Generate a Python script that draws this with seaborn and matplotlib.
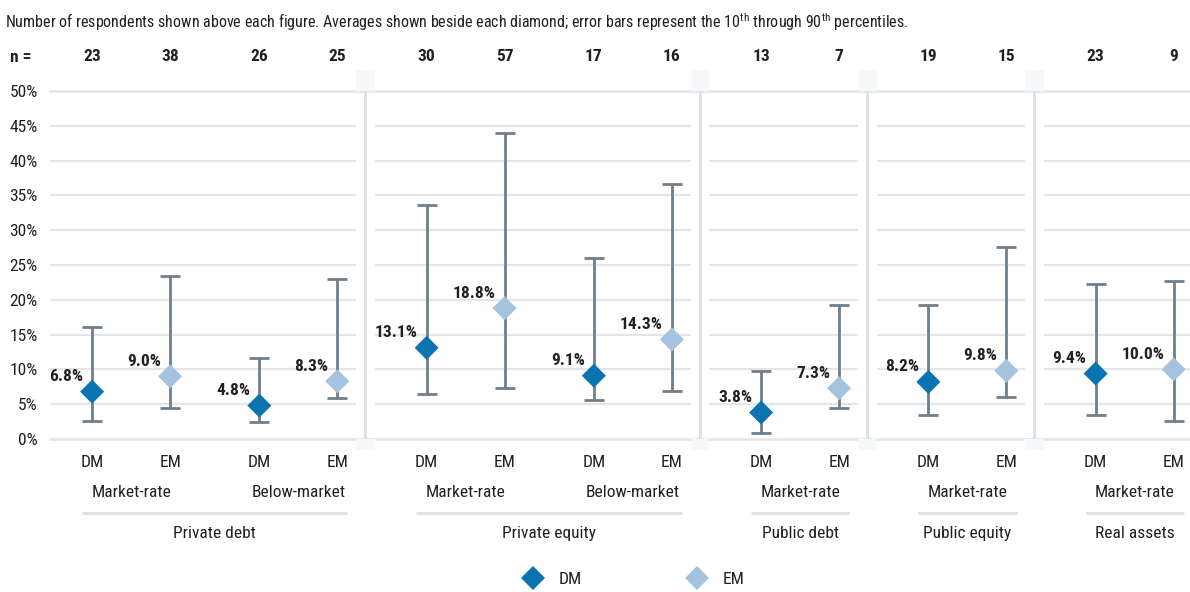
import matplotlib
matplotlib.use("Agg")
import numpy as np
import pandas as pd
import seaborn as sns
import matplotlib.pyplot as plt
from matplotlib import font_manager as fm
from matplotlib.patches import Rectangle

# ---- data -------------------------------------------------------------
asset_classes = ["Private debt", "Private equity", "Public debt", "Public equity", "Real assets"]
pair_class = [0, 0, 1, 1, 2, 3, 4]          # asset class of each DM/EM pair
pair_rate = ["Market-rate", "Below-market", "Market-rate", "Below-market",
             "Market-rate", "Market-rate", "Market-rate"]
markets = ["DM", "EM"]
n_resp = [23, 38, 26, 25, 30, 57, 17, 16, 13, 7, 19, 15, 23, 9]
avg = [6.8, 9.0, 4.8, 8.3, 13.1, 18.8, 9.1, 14.3, 3.8, 7.3, 8.2, 9.8, 9.4, 10.0]
p10 = [2.6, 4.5, 2.4, 5.9, 6.4, 7.3, 5.6, 6.9, 0.8, 4.5, 3.4, 6.1, 3.5, 2.6]
p90 = [16.1, 23.4, 11.7, 23.0, 33.6, 43.9, 26.0, 36.6, 9.8, 19.2, 19.2, 27.6, 22.3, 22.7]
y_ticks = [0, 5, 10, 15, 20, 25, 30, 35, 40, 45, 50]

# ---- style ------------------------------------------------------------
DM_COLOR = "#0b73b0"
EM_COLOR = "#a5c3de"
BAR_COLOR = "#6f7f8c"
GRID_COLOR = "#e2e6e9"
TEXT_COLOR = "#231f20"

sns.set_theme(style="white")


def condensed_font():
    entries = fm.fontManager.ttflist
    names = {f.name for f in entries}
    for fam in ["Roboto Condensed", "Liberation Sans Narrow", "Open Sans Condensed",
                "Noto Sans Condensed", "DejaVu Sans Condensed"]:
        if fam in names:
            return fam, "normal"
    for fam in ["Noto Sans", "Roboto", "Open Sans", "DejaVu Sans", "Liberation Sans"]:
        if any(f.name == fam and "condensed" in str(f.stretch) for f in entries):
            return fam, "condensed"
    return "DejaVu Sans", "normal"


FAMILY, STRETCH = condensed_font()
plt.rcParams["font.family"] = [FAMILY, "DejaVu Sans"]
plt.rcParams["font.stretch"] = STRETCH
plt.rcParams["mathtext.fontset"] = "custom"
plt.rcParams["mathtext.rm"] = FAMILY
plt.rcParams["mathtext.bf"] = FAMILY + ":bold"
plt.rcParams["text.color"] = TEXT_COLOR

# ---- layout of the x positions -----------------------------------------
PAIR_STEP = 2.145
xs = [p * PAIR_STEP + m for p in range(len(pair_class)) for m in range(2)]
df = pd.DataFrame({
    "x": xs,
    "avg": avg,
    "p10": p10,
    "p90": p90,
    "market": markets * len(pair_class),
    "n": n_resp,
})

W, H = 1190, 592
fig = plt.figure(figsize=(W / 100, H / 100), dpi=100)
ax = fig.add_axes([50 / W, (H - 439) / H, (W - 50) / W, 348 / H])
XL, XR = -0.54, 14.08
ax.set_xlim(XL, XR)
ax.set_ylim(0, 50)
for s in ax.spines.values():
    s.set_visible(False)

# panel dividers between asset classes
dividers = []
for p in range(len(pair_class) - 1):
    if pair_class[p] != pair_class[p + 1]:
        dividers.append(p * PAIR_STEP + 1 + 0.36)
bounds = [XL] + dividers + [XR]
gap = 0.12
for t in y_ticks[1:-1]:
    for k in range(len(bounds) - 1):
        a = bounds[k] + (gap if k > 0 else 0)
        b = bounds[k + 1] - (gap if k < len(bounds) - 2 else 0)
        ax.hlines(t, a, b, color=GRID_COLOR, lw=1.6, zorder=0)
for t in (0, 50):
    ax.axhline(t, color=GRID_COLOR, lw=1.8, zorder=0, clip_on=False)
for d in dividers:
    ax.vlines(d, 0, 50, color="#dde2e5", lw=2.2, zorder=0.5)
    ax.add_patch(Rectangle((d - 0.12, 50), 0.24, 3.0, color="#f7f8f9", lw=0,
                           zorder=0, clip_on=False))
    ax.add_patch(Rectangle((d - 0.12, -1.6), 0.24, 1.6, color="#f7f8f9", lw=0,
                           zorder=0, clip_on=False))

# error bars (10th–90th percentile) and average diamonds
ax.errorbar(df["x"], df["avg"], yerr=[df["avg"] - df["p10"], df["p90"] - df["avg"]],
            fmt="none", ecolor=BAR_COLOR, elinewidth=2, capsize=7.2, capthick=2, zorder=3)
sns.scatterplot(data=df, x="x", y="avg", hue="market", palette={"DM": DM_COLOR, "EM": EM_COLOR},
                marker="D", s=150, edgecolor="none", linewidth=0, zorder=4, ax=ax)

for x, v in zip(df["x"], df["avg"]):
    ax.annotate(f"{v:.1f}%", xy=(x, v), xytext=(-6.5, 10.8), textcoords="offset points",
                ha="right", va="center", fontsize=12.5, fontweight="bold")

# y axis
ax.set_yticks(y_ticks)
ax.set_yticklabels([f"{t}%" for t in y_ticks])
ax.tick_params(axis="y", length=0, pad=9, labelsize=12.5, labelcolor=TEXT_COLOR)
ax.set_xticks([])
ax.set_xlabel("")
ax.set_ylabel("")

# respondent counts above each figure
for x, n in zip(df["x"], df["n"]):
    ax.text(x, 54.9, str(n), ha="center", va="center", fontsize=12.5, fontweight="bold",
            clip_on=False)
fig.text(10 / W, 1 - 57 / H, "n =", ha="left", va="center", fontsize=12.5, fontweight="bold")
fig.text(5 / W, 1 - 22 / H,
         "Number of respondents shown above each figure. Averages shown beside each diamond; "
         "error bars represent the 10$^{\\mathrm{th}}$ through 90$^{\\mathrm{th}}$ percentiles.",
         ha="left", va="center", fontsize=11.5)

# category labels below the axis
for x, m in zip(df["x"], df["market"]):
    ax.text(x, -3.4, m, ha="center", va="center", fontsize=12.5, clip_on=False)
for p, rate in enumerate(pair_rate):
    cx = p * PAIR_STEP + 0.5
    ax.text(cx, -7.7, rate, ha="center", va="center", fontsize=12.5, clip_on=False)
for c, name in enumerate(asset_classes):
    pairs = [p for p, pc in enumerate(pair_class) if pc == c]
    x0 = pairs[0] * PAIR_STEP
    x1 = pairs[-1] * PAIR_STEP + 1
    ax.plot([x0 - 0.13, x1 + 0.13], [-10.6, -10.6], color="#dde2e5", lw=2.2,
            clip_on=False, solid_capstyle="butt")
    ax.text((x0 + x1) / 2, -13.6, name, ha="center", va="center", fontsize=12.5, clip_on=False)

sns.move_legend(ax, "center", bbox_to_anchor=(630 / W, 1 - 579 / H),
                bbox_transform=fig.transFigure, ncol=2, frameon=False, title=None,
                fontsize=12.5, handletextpad=0.5, columnspacing=5.6)

fig.savefig("out.png", dpi=100)
